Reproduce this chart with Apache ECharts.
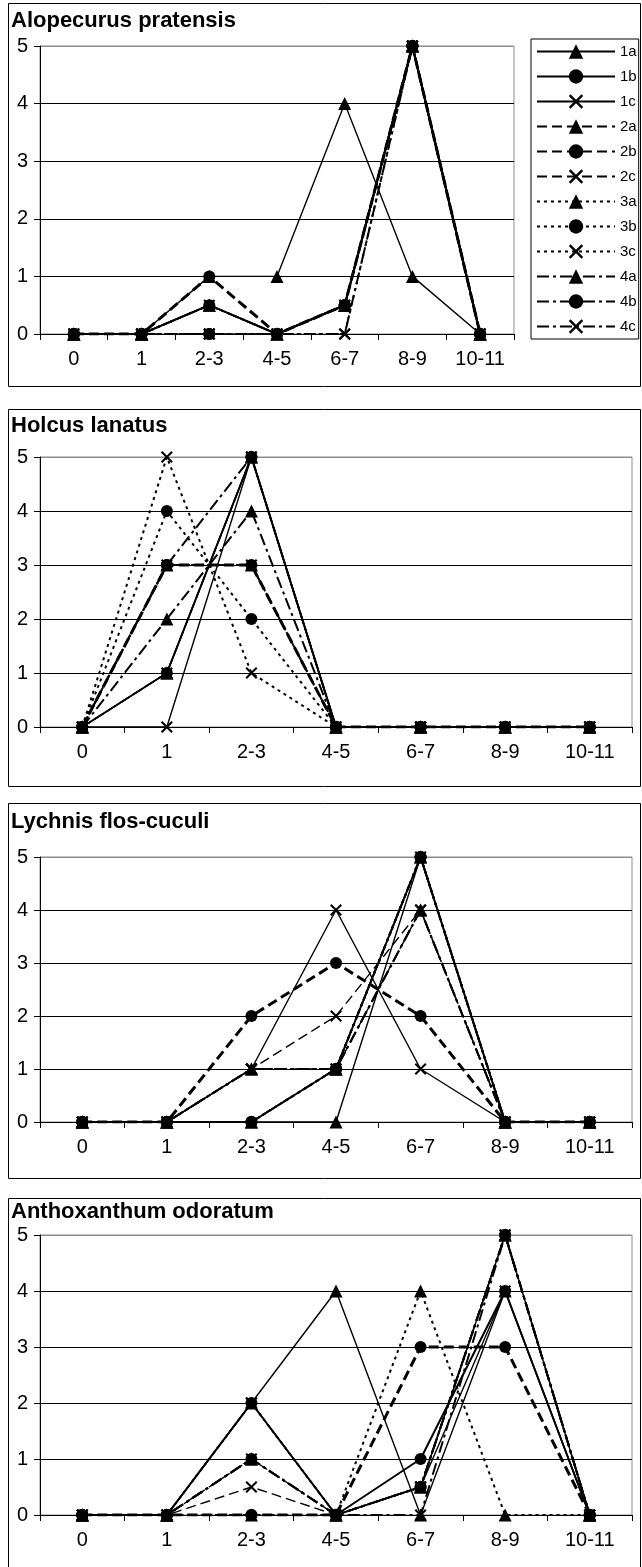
<!DOCTYPE html>
<html>
<head>
<meta charset="utf-8">
<script src="https://cdn.jsdelivr.net/npm/echarts@6/dist/echarts.min.js"></script>
<style>
html,body{margin:0;padding:0;background:#fff;}
#chart{width:642px;height:1567px;}
</style>
</head>
<body>
<div id="chart"></div>
<script>
// ---- data ----
const categories = ['0', '1', '2-3', '4-5', '6-7', '8-9', '10-11'];
const seriesNames = ['1a', '1b', '1c', '2a', '2b', '2c', '3a', '3b', '3c', '4a', '4b', '4c'];
const panelTitles = ['Alopecurus pratensis', 'Holcus lanatus', 'Lychnis flos-cuculi', 'Anthoxanthum odoratum'];
const yTicks = [0, 1, 2, 3, 4, 5];

// rows follow seriesNames order
const alopecurusValues = [
  [0, 0, 1, 1, 4, 1, 0],
  [0, 0, 0.5, 0, 0.5, 5, 0],
  [0, 0, 0.5, 0, 0.5, 5, 0],
  [0, 0, 1, 0, 0.5, 5, 0],
  [0, 0, 1, 0, 0.5, 5, 0],
  [0, 0, 0, 0, 0.5, 5, 0],
  [0, 0, 0.5, 0, 0.5, 5, 0],
  [0, 0, 0, 0, 0.5, 5, 0],
  [0, 0, 0, 0, 0, 5, 0],
  [0, 0, 0.5, 0, 0.5, 5, 0],
  [0, 0, 0, 0, 0.5, 5, 0],
  [0, 0, 0, 0, 0, 5, 0]
];
const holcusValues = [
  [0, 1, 5, 0, 0, 0, 0],
  [0, 1, 5, 0, 0, 0, 0],
  [0, 0, 5, 0, 0, 0, 0],
  [0, 1, 5, 0, 0, 0, 0],
  [0, 3, 3, 0, 0, 0, 0],
  [0, 1, 5, 0, 0, 0, 0],
  [0, 3, 3, 0, 0, 0, 0],
  [0, 4, 2, 0, 0, 0, 0],
  [0, 5, 1, 0, 0, 0, 0],
  [0, 2, 4, 0, 0, 0, 0],
  [0, 3, 5, 0, 0, 0, 0],
  [0, 3, 3, 0, 0, 0, 0]
];
const lychnisValues = [
  [0, 0, 0, 0, 5, 0, 0],
  [0, 0, 0, 1, 5, 0, 0],
  [0, 0, 1, 4, 1, 0, 0],
  [0, 0, 1, 1, 4, 0, 0],
  [0, 0, 2, 3, 2, 0, 0],
  [0, 0, 1, 2, 4, 0, 0],
  [0, 0, 0, 1, 5, 0, 0],
  [0, 0, 0, 1, 5, 0, 0],
  [0, 0, 1, 1, 5, 0, 0],
  [0, 0, 1, 1, 4, 0, 0],
  [0, 0, 0, 1, 5, 0, 0],
  [0, 0, 1, 1, 4, 0, 0]
];
const anthoxanthumValues = [
  [0, 0, 2, 4, 0, 4, 0],
  [0, 0, 2, 0, 1, 4, 0],
  [0, 0, 2, 0, 0.5, 4, 0],
  [0, 0, 1, 0, 0.5, 5, 0],
  [0, 0, 0, 0, 3, 3, 0],
  [0, 0, 0.5, 0, 0.5, 5, 0],
  [0, 0, 0, 0, 4, 0, 0],
  [0, 0, 0, 0, 0.5, 5, 0],
  [0, 0, 2, 0, 0.5, 5, 0],
  [0, 0, 1, 0, 0.5, 5, 0],
  [0, 0, 1, 0, 0.5, 5, 0],
  [0, 0, 1, 0, 0, 5, 0]
];
const panelValues = [alopecurusValues, holcusValues, lychnisValues, anthoxanthumValues];

// ---- layout / style ----
const FONT = '"Liberation Sans", Arial, sans-serif';
const layout = [
  { frameTop: 3, frameBottom: 386, titleY: 22, gridTop: 46, gridH: 288, gridW: 474 },
  { frameTop: 409, frameBottom: 786, titleY: 427, gridTop: 457, gridH: 270, gridW: 592 },
  { frameTop: 803, frameBottom: 1178, titleY: 823, gridTop: 857, gridH: 265, gridW: 592 },
  { frameTop: 1198, frameBottom: 1575, titleY: 1213, gridTop: 1235, gridH: 280, gridW: 592 }
];
const X_PATH = 'path://M0,1.2L1.2,0L5,3.8L8.8,0L10,1.2L6.2,5L10,8.8L8.8,10L5,6.2L1.2,10L0,8.8L3.8,5Z';

function seriesStyle(name) {
  const g = name[0], m = name[1];
  const symbol = m === 'a' ? 'triangle' : (m === 'b' ? 'circle' : X_PATH);
  const symbolSize = m === 'a' ? 13 : (m === 'b' ? 12 : 12);
  let type = 'solid', width = 1.4;
  if (g === '1') { type = 'solid'; width = m === 'b' ? 2 : 1.4; }
  if (g === '2') { type = [10, 5]; width = m === 'b' ? 3 : 1.4; }
  if (g === '3') { type = [3, 4]; width = 2; }
  if (g === '4') { type = [12, 4, 3, 4]; width = 2; }
  return { symbol, symbolSize, type, width };
}

const grid = [], xAxis = [], yAxis = [], series = [], title = [], graphic = [];
layout.forEach((L, p) => {
  grid.push({ left: 40, top: L.gridTop, width: L.gridW, height: L.gridH,
    show: true, borderColor: '#8c8c8c', borderWidth: 1, backgroundColor: '#fff' });
  xAxis.push({
    type: 'category', gridIndex: p, data: categories, boundaryGap: true,
    axisLine: { lineStyle: { color: '#000', width: 1 } },
    axisTick: { show: true, length: 6, lineStyle: { color: '#000' } },
    axisLabel: { fontSize: 20, color: '#000', fontFamily: FONT, margin: 15, interval: 0 },
    splitLine: { show: false }
  });
  yAxis.push({
    type: 'value', gridIndex: p, min: 0, max: 5, interval: 1,
    axisLine: { show: true, lineStyle: { color: '#000', width: 1 } },
    axisTick: { show: true, length: 6, lineStyle: { color: '#000' } },
    axisLabel: { fontSize: 20, color: '#000', fontFamily: FONT, margin: 12,
      formatter: v => (yTicks.indexOf(v) >= 0 ? String(v) : '') },
    splitLine: { show: true, lineStyle: { color: ['#000', '#000', '#000', '#000', '#000', '#8c8c8c'], width: 1 } }
  });
  title.push({ text: panelTitles[p], left: 11, top: L.titleY - 12, padding: 0,
    textStyle: { fontSize: 22, fontWeight: 'bold', color: '#000', fontFamily: FONT } });
  graphic.push({ type: 'rect', z: 100, silent: true,
    shape: { x: 8.5, y: L.frameTop + 0.5, width: 632, height: L.frameBottom - L.frameTop },
    style: { fill: 'none', stroke: '#000', lineWidth: 1 } });
  seriesNames.forEach((name, i) => {
    const s = seriesStyle(name);
    series.push({
      name, type: 'line', xAxisIndex: p, yAxisIndex: p,
      data: panelValues[p][i],
      symbol: s.symbol, symbolSize: s.symbolSize, showAllSymbol: true,
      lineStyle: { color: '#000', width: s.width, type: s.type },
      itemStyle: { color: '#000', borderWidth: 0 },
      emphasis: { disabled: true },
      animation: false, z: 3
    });
  });
});

const chart = echarts.init(document.getElementById('chart'), null, { renderer: 'canvas' });
chart.setOption({
  backgroundColor: '#fff',
  animation: false,
  title, grid, xAxis, yAxis, series, graphic,
  legend: {
    data: seriesNames, orient: 'vertical', left: 531, top: 39,
    padding: [5, 2, 5, 5], itemWidth: 78, itemHeight: 18, itemGap: 10,
    borderColor: '#000', borderWidth: 1, backgroundColor: '#fff',
    textStyle: { fontSize: 15, color: '#000', fontFamily: FONT },
    selectedMode: false
  }
});
</script>
</body>
</html>
